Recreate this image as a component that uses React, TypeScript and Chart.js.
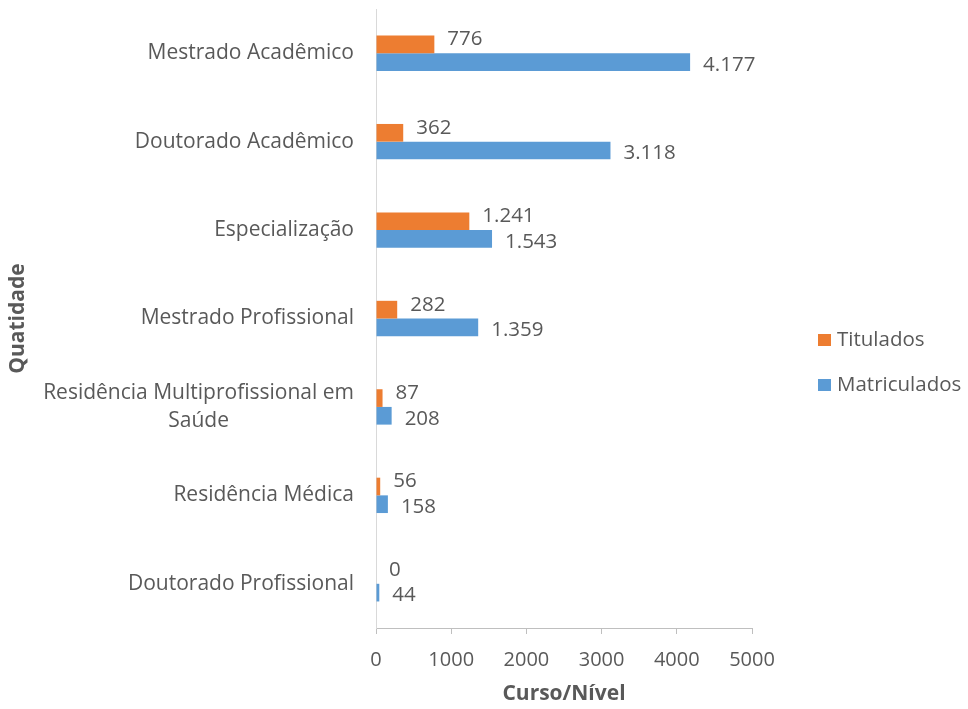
import React, { useEffect, useRef } from "react";
import { Chart, registerables } from "chart.js";

Chart.register(...registerables);

const categories: string[][] = [
  ["Mestrado Acadêmico"],
  ["Doutorado Acadêmico"],
  ["Especialização"],
  ["Mestrado Profissional"],
  ["Residência Multiprofissional em", "Saúde"],
  ["Residência Médica"],
  ["Doutorado Profissional"],
];
const titulados: number[] = [776, 362, 1241, 282, 87, 56, 0];
const matriculados: number[] = [4177, 3118, 1543, 1359, 208, 158, 44];
const xTicks: number[] = [0, 1000, 2000, 3000, 4000, 5000];

const FONT = "'Open Sans', sans-serif";
const TEXT = "#595959";
const ORANGE = "#ED7D31";
const BLUE = "#5B9BD5";

function fmt(n: number): string {
  return String(n).replace(/\B(?=(\d{3})+(?!\d))/g, ".");
}

const customPlugin = {
  id: "custom",
  afterDraw(chart: any) {
    const ctx = chart.ctx;
    const area = chart.chartArea;
    const yScale = chart.scales.y;
    ctx.save();
    // category labels
    ctx.font = `21px ${FONT}`;
    ctx.fillStyle = TEXT;
    ctx.textAlign = "center";
    ctx.textBaseline = "middle";
    const lh = 28;
    categories.forEach((lines, i) => {
      const cy = yScale.getPixelForValue(i);
      const w = Math.max(...lines.map((l) => ctx.measureText(l).width));
      const right = area.left - 22;
      const cx = right - w / 2;
      const startY = cy - ((lines.length - 1) * lh) / 2;
      lines.forEach((l, j) => ctx.fillText(l, cx, startY + j * lh));
    });
    // data labels
    ctx.font = `20.5px ${FONT}`;
    ctx.textAlign = "left";
    chart.data.datasets.forEach((ds: any, di: number) => {
      const meta = chart.getDatasetMeta(di);
      meta.data.forEach((el: any, i: number) => {
        const v = ds.data[i];
        ctx.fillText(fmt(v), el.x + 13, el.y + (di === 0 ? -5 : 3));
      });
    });
    // legend
    ctx.font = `20.5px ${FONT}`;
    const cyL = chart.height / 2 + 8;
    const items = chart.data.datasets;
    items.forEach((ds: any, k: number) => {
      const y = cyL + (k - (items.length - 1) / 2) * 45;
      const x = area.right + 66;
      ctx.fillStyle = ds.backgroundColor;
      ctx.fillRect(x, y - 6, 13, 12);
      ctx.fillStyle = TEXT;
      ctx.fillText(ds.label, x + 19, y);
    });
    ctx.restore();
  },
};

export default function App() {
  const ref = useRef<HTMLCanvasElement>(null);
  useEffect(() => {
    document.body.style.margin = "0";
    const chart = new Chart(ref.current!, {
      type: "bar",
      data: {
        labels: categories.map((c) => c.join(" ")),
        datasets: [
          { label: "Titulados", data: titulados, backgroundColor: ORANGE },
          { label: "Matriculados", data: matriculados, backgroundColor: BLUE },
        ],
      },
      options: {
        indexAxis: "y",
        animation: false,
        responsive: false,
        maintainAspectRatio: false,
        layout: { padding: { top: 9, right: 216, left: 0, bottom: 0 } },
        datasets: { bar: { categoryPercentage: 0.4, barPercentage: 1.0 } },
        plugins: { legend: { display: false }, tooltip: { enabled: false } },
        scales: {
          x: {
            min: 0,
            max: 5000,
            afterBuildTicks: (scale: any) => {
              scale.ticks = xTicks.map((v) => ({ value: v }));
            },
            afterFit: (scale: any) => {
              scale.height = 81;
            },
            grid: { drawOnChartArea: false, drawTicks: true, tickLength: 6, color: "#bfbfbf" },
            border: { display: true, color: "#bfbfbf" },
            ticks: {
              color: TEXT,
              font: { family: FONT, size: 20 },
              padding: 14,
              callback: (v: any) => String(v),
            },
            title: {
              display: true,
              text: "Curso/Nível",
              color: TEXT,
              font: { family: FONT, size: 21, weight: "bold" },
              padding: { top: 0, bottom: 2 },
            },
          },
          y: {
            afterFit: (scale: any) => {
              scale.width = 376;
            },
            grid: { display: false },
            border: { display: true, color: "#d9d9d9" },
            ticks: { display: false },
            title: {
              display: true,
              text: "Quatidade",
              color: TEXT,
              font: { family: FONT, size: 21, weight: "bold" },
              padding: { top: 5, bottom: 0 },
            },
          },
        },
      },
      plugins: [customPlugin],
    } as any);
    return () => chart.destroy();
  }, []);
  return (
    <div style={{ width: 968, height: 709 }}>
      <canvas ref={ref} width={968} height={709} style={{ display: "block" }} />
    </div>
  );
}
